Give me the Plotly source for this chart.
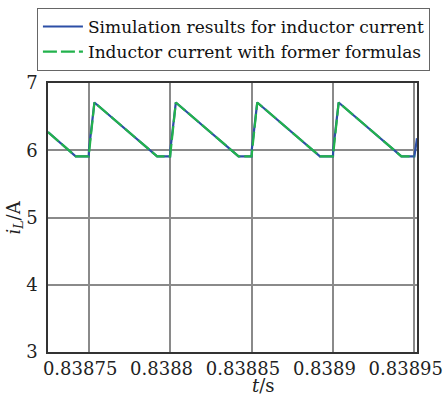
import plotly.graph_objects as go

# Inductor current waveform vertices (time in s, current in A)
t_sim = [0.838725, 0.838742, 0.83875, 0.8387502, 0.8387535, 0.838792, 0.8388, 0.8388002,
         0.8388035, 0.838842, 0.83885, 0.8388502, 0.8388535, 0.838892, 0.8389, 0.8389002,
         0.8389035, 0.838942, 0.83895, 0.8389516]
i_sim = [6.27, 5.91, 5.91, 6.02, 6.71, 5.91, 5.91, 6.02,
         6.71, 5.91, 5.91, 6.02, 6.71, 5.91, 5.91, 6.02,
         6.71, 5.91, 5.91, 6.18]

t_formula = [0.838725, 0.838742, 0.83875, 0.8387535, 0.838792, 0.8388, 0.8388035,
             0.838842, 0.83885, 0.8388535, 0.838892, 0.8389, 0.8389035, 0.838942, 0.83895]
i_formula = [6.27, 5.91, 5.91, 6.71, 5.91, 5.91, 6.71,
             5.91, 5.91, 6.71, 5.91, 5.91, 6.71, 5.91, 5.91]

x_ticks = [0.83875, 0.8388, 0.83885, 0.8389, 0.83895]
x_tick_labels = ["0.83875", "0.8388", "0.83885", "0.8389", "0.83895"]
y_ticks = [3, 4, 5, 6, 7]

font_family = "DejaVu Serif"
text_color = "#222"

# trailing no-break spaces nudge each time label a little to the left of its tick
pad = "\u00a0\u00a0\u00a0"

fig = go.Figure()
fig.add_trace(go.Scatter(
    x=t_sim, y=i_sim, mode="lines",
    name="Simulation results for inductor current",
    line=dict(color="#2c4fa6", width=2.2),
))
fig.add_trace(go.Scatter(
    x=t_formula, y=i_formula, mode="lines",
    name="Inductor current with former formulas",
    line=dict(color="#22b24c", width=2.2, dash="14px,4px"),
))

fig.update_layout(
    width=443, height=397,
    margin=dict(l=48, r=26, t=83, b=45, autoexpand=False),
    paper_bgcolor="white", plot_bgcolor="white",
    font=dict(family=font_family, size=18, color=text_color),
    showlegend=True,
    legend=dict(
        x=-0.03, y=1.279, xanchor="left", yanchor="top",
        bgcolor="white", bordercolor="#666", borderwidth=1,
        font=dict(family=font_family, size=17, color="#111"),
        tracegroupgap=0, itemwidth=40,
    ),
    xaxis=dict(
        range=[0.838725, 0.8389516],
        tickvals=x_ticks, ticktext=[lbl + pad for lbl in x_tick_labels],
        tickangle=0,
        showgrid=True, gridcolor="#8a8a8a", gridwidth=1.6,
        showline=True, linecolor="#333", linewidth=1.5, mirror=True,
        ticks="", zeroline=False, ticklabeloverflow="allow",
        ticklabelstandoff=0, automargin=False,
        tickfont=dict(family=font_family, size=18, color=text_color),
    ),
    yaxis=dict(
        range=[3, 7],
        tickvals=y_ticks, automargin=False,
        showgrid=True, gridcolor="#8a8a8a", gridwidth=1.6,
        showline=True, linecolor="#333", linewidth=1.5, mirror=True,
        ticks="", zeroline=False, ticklabelstandoff=5,
        tickfont=dict(family=font_family, size=18, color=text_color),
    ),
)

# axis titles
fig.add_annotation(
    text="<i>t</i>/s", xref="paper", yref="paper",
    x=0.584, y=-0.078, xanchor="center", yanchor="top",
    showarrow=False, font=dict(family=font_family, size=18, color=text_color),
)
fig.add_annotation(
    text="<i>i<sub>L</sub></i>/A", xref="paper", yref="paper",
    x=-0.092, y=0.5, xanchor="center", yanchor="middle", textangle=-90,
    showarrow=False, font=dict(family=font_family, size=18, color=text_color),
)

fig.write_html("out.html")
